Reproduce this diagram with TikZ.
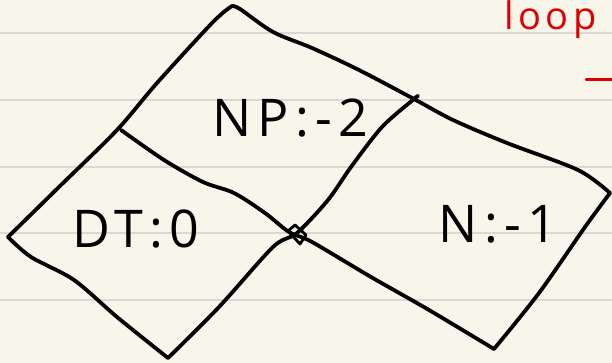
\documentclass[tikz,border=0pt]{standalone}
\usepackage{fontspec}
\newfontfamily\handfont[LetterSpace=12]{Open Sans}
\definecolor{paper}{RGB}{248,246,235}
\definecolor{ruling}{RGB}{216,216,213}
\definecolor{penred}{RGB}{220,0,0}

\begin{document}
\begin{tikzpicture}[x=1pt, y=-1pt,
    ink/.style={line width=3.8pt, line cap=round, line join=round},
    rule/.style={draw=ruling, line width=2pt},
    lbl/.style={inner sep=0pt, font=\handfont\fontsize{52}{52}\selectfont},
    redlbl/.style={inner sep=0pt, text=penred, font=\handfont\fontsize{38}{38}\selectfont}]
    % paper and ruled lines
    \fill[paper] (0,0) rectangle (612,363);
    \useasboundingbox (0,0) rectangle (612,363);
    \foreach \y in {33,100,167,233,300}
      \draw[rule] (0,\y) -- (612,\y);

    % corners of the two diamonds
    \coordinate (top) at (232,6);
    \coordinate (left) at (8,237);
    \coordinate (bot) at (168,358);
    \coordinate (cross) at (297,233);
    \coordinate (mid) at (414,99);
    \coordinate (right) at (610,193);
    \coordinate (rbot) at (494,349);
    \coordinate (cut) at (121,130);

    % outline
    \draw[ink] plot[smooth, tension=0.5] coordinates {(top) (213,22) (157,83) (117,130) (60,186) (left)};
    \draw[ink] plot[smooth, tension=0.5] coordinates {(left) (31,257) (74,280) (117,317) (bot)};
    \draw[ink] plot[smooth, tension=0.5] coordinates {(top) (240,9) (273,32) (312,48) (359,70) (mid) (453,120) (507,143) (578,170) (right)};
    \draw[ink] plot[smooth, tension=0.5] coordinates {(right) (585,227) (539,293) (rbot)};
    % crossing lines
    \draw[ink] plot[smooth, tension=0.5] coordinates {(bot) (219,307) (273,247) (cross) (328,200) (351,167) (382,127) (mid) (418,96)};
    \draw[ink] plot[smooth, tension=0.5] coordinates {(cut) (164,160) (203,182) (234,193) (265,213) (289,232) (312,242) (371,277) (429,310) (rbot)};
    \draw[ink, line width=2.8pt] (288,231) -- (295,225) -- (306,235) -- (300,244) -- cycle;

    % labels
    \node[lbl] (np) at (290,118) {NP:-2};
    \node[lbl] (dt) at (136,229) {DT:0};
    \node[lbl] (n) at (498,224) {N:-1};
    \node[redlbl, anchor=base west] (loop) at (504,30) {loop};
    \coordinate (dashend) at (612,80);
    \draw[penred, line width=3pt, line cap=round] (586,80) -- (dashend);
\end{tikzpicture}
\end{document}
